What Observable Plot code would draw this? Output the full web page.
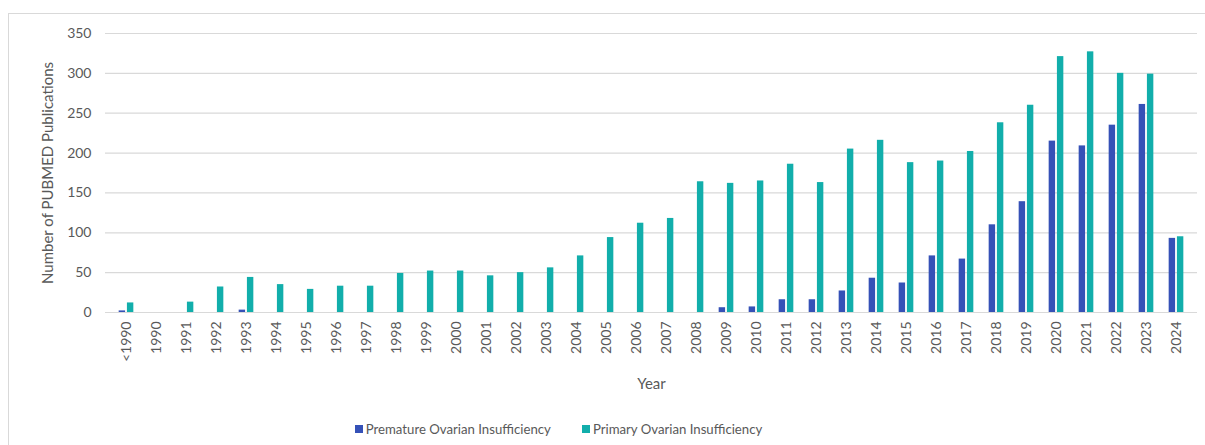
<!DOCTYPE html>
<html>
<head>
<meta charset="utf-8">
<script src="https://cdn.jsdelivr.net/npm/d3@7"></script>
<script src="https://cdn.jsdelivr.net/npm/@observablehq/plot@0.6"></script>
<style>
  html, body { margin: 0; padding: 0; background: #fff; overflow: hidden; }
  body { width: 1205px; height: 445px; position: relative; font-family: Lato, "Open Sans", sans-serif; }
  #frame { position: absolute; left: 8px; top: 13px; width: 1400px; height: 600px; border: 1px solid #d9d9d9; box-sizing: border-box; }
  #chart { position: absolute; left: 0; top: 0; }
  #legend { position: absolute; top: 421px; left: 0; width: 1205px; display: flex; justify-content: center; gap: 31px; font-size: 13.2px; color: #595959; box-sizing: border-box; transform: translateX(-44px); }
  #legend span.item { display: inline-flex; align-items: center; }
  #legend span.sw { display: inline-block; width: 8px; height: 8px; margin-right: 3px; }
</style>
</head>
<body>
<div id="frame"></div>
<div id="chart"></div>
<div id="legend"></div>
<script>
const years = ["<1990","1990","1991","1992","1993","1994","1995","1996","1997","1998","1999","2000","2001","2002","2003","2004","2005","2006","2007","2008","2009","2010","2011","2012","2013","2014","2015","2016","2017","2018","2019","2020","2021","2022","2023","2024"];
const premature = [2,0,0,0,3,0,0,0,0,0,0,0,0,0,0,0,0,0,0,0,6,7,16,16,27,43,37,71,67,110,139,215,209,235,261,93];
const primary = [12,0,13,32,44,35,29,33,33,49,52,52,46,50,56,71,94,112,118,164,162,165,186,163,205,216,188,190,202,238,260,321,327,300,299,95];
const seriesNames = ["Premature Ovarian Insufficiency", "Primary Ovarian Insufficiency"];
const seriesColors = ["#3551b7", "#12aeab"];
const yTicks = [0,50,100,150,200,250,300,350];
const yLabel = "Number of PUBMED Publications";
const xLabel = "Year";

const W = 1205, H = 400, ML = 105, MR = 8, MT = 33, MB = 88;
const step = (W - ML - MR) / years.length;
const groupW = 15, gap = 1.5;
const outer = (step - groupW) / 2;

const dataP = years.map((y, i) => ({year: y, value: premature[i]}));
const dataQ = years.map((y, i) => ({year: y, value: primary[i]}));

const plot = Plot.plot({
  width: W, height: H,
  marginLeft: ML, marginRight: MR, marginTop: MT, marginBottom: MB,
  style: {fontFamily: "Lato, 'Open Sans', sans-serif", fontSize: "14px", color: "#595959", background: "transparent"},
  x: {domain: years, padding: 0},
  y: {domain: [0, 350]},
  marks: [
    Plot.ruleY(yTicks, {stroke: "#d9d9d9", strokeWidth: 1.2, strokeOpacity: 1}),
    Plot.barY(dataP, {x: "year", y: "value", fill: seriesColors[0], insetLeft: outer, insetRight: step - outer - (groupW - gap) / 2}),
    Plot.barY(dataQ, {x: "year", y: "value", fill: seriesColors[1], insetLeft: outer + (groupW + gap) / 2, insetRight: outer}),
    Plot.axisY({ticks: yTicks, tickSize: 0, tickPadding: 14, fontSize: 14,
      label: yLabel, labelAnchor: "center", labelOffset: 63}),
    Plot.axisX({tickSize: 0, tickPadding: 9, tickRotate: -90, fontSize: 14,
      label: xLabel, labelAnchor: "center", labelOffset: 76})
  ]
});
document.getElementById("chart").appendChild(plot);
plot.querySelectorAll("g[aria-label='y-axis label'] text, g[aria-label='x-axis label'] text").forEach(t => {
  t.setAttribute("font-size", "15");
  t.textContent = t.textContent.replace(/[\u2190-\u2193]/g, "").trim();
});

const legend = document.getElementById("legend");
seriesNames.forEach((n, i) => {
  const item = document.createElement("span");
  item.className = "item";
  const sw = document.createElement("span");
  sw.className = "sw";
  sw.style.background = seriesColors[i];
  item.appendChild(sw);
  item.appendChild(document.createTextNode(n));
  legend.appendChild(item);
});
</script>
</body>
</html>
